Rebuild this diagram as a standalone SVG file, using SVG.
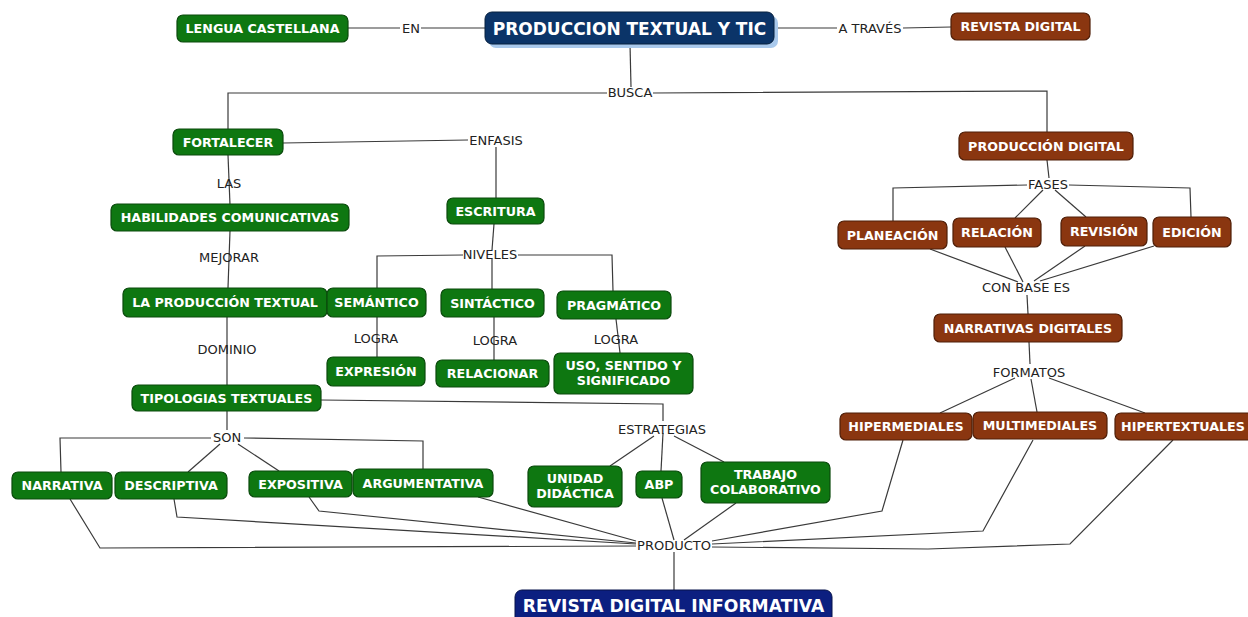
<svg xmlns="http://www.w3.org/2000/svg" width="1248" height="617" viewBox="0 0 1248 617">
<style>
.g rect{fill:#0e7711;stroke:#0a4a0c;stroke-width:1.2}
.b rect{fill:#8a3610;stroke:#4f1e08;stroke-width:1.2}
.n text,.g text,.b text{font-family:"DejaVu Sans",Verdana,sans-serif;font-weight:bold;font-size:12.7px;fill:#ffffff;text-anchor:middle}
.lbl{font-family:"DejaVu Sans",Verdana,sans-serif;font-size:13px;fill:#222;text-anchor:middle}
#conn polyline{fill:none;stroke:#3a3a3a;stroke-width:1.2}
</style>
<rect width="1248" height="617" fill="#ffffff"/>
<g id="conn">
<polyline points="348,28 400,28"/>
<polyline points="421,28 485,28"/>
<polyline points="774,28 837,28"/>
<polyline points="903,28 951,27"/>
<polyline points="630,44 631,87"/>
<polyline points="607,93 228,93 228,129"/>
<polyline points="653,93 1047,91 1047,132"/>
<polyline points="283,143 468,140"/>
<polyline points="496,147 496,198"/>
<polyline points="228,155 230,205"/>
<polyline points="230,231 228,288"/>
<polyline points="227,317 227,385"/>
<polyline points="494,224 492,250"/>
<polyline points="492,259 492,289"/>
<polyline points="463,255 377,256 377,288"/>
<polyline points="518,255 612,255 613,291"/>
<polyline points="377,317 377,357"/>
<polyline points="494,317 494,360"/>
<polyline points="616,319 620,353"/>
<polyline points="321,400 663,404 663,421"/>
<polyline points="663,433 661,471"/>
<polyline points="654,436 610,466"/>
<polyline points="674,436 724,462"/>
<polyline points="227,411 227,430"/>
<polyline points="211,438 60,438 61,472"/>
<polyline points="220,444 188,472"/>
<polyline points="238,444 279,471"/>
<polyline points="244,438 423,441 423,469"/>
<polyline points="70,499 100,548 636,546"/>
<polyline points="174,499 177,517 636,544"/>
<polyline points="309,497 319,511 636,543"/>
<polyline points="478,497 636,541"/>
<polyline points="662,498 674,540"/>
<polyline points="736,503 684,540"/>
<polyline points="903,440 882,511 712,541"/>
<polyline points="1033,440 983,531 712,544"/>
<polyline points="1173,440 1070,544 928,549 712,547"/>
<polyline points="674,552 674,590"/>
<polyline points="1047,160 1049,178"/>
<polyline points="1027,185 893,188 893,221"/>
<polyline points="1069,185 1190,188 1191,217"/>
<polyline points="1043,190 1015,218"/>
<polyline points="1055,190 1086,217"/>
<polyline points="930,249 1018,282"/>
<polyline points="1005,247 1023,282"/>
<polyline points="1085,246 1034,281"/>
<polyline points="1154,246 1040,281"/>
<polyline points="1027,295 1028,314"/>
<polyline points="1029,342 1030,364"/>
<polyline points="1015,378 940,413"/>
<polyline points="1031,379 1037,412"/>
<polyline points="1049,378 1145,413"/>
</g>
<g id="labels">
<text class="lbl" x="411" y="33">EN</text>
<text class="lbl" x="870" y="33">A TRAVÉS</text>
<text class="lbl" x="630" y="97">BUSCA</text>
<text class="lbl" x="496" y="145">ENFASIS</text>
<text class="lbl" x="229" y="188">LAS</text>
<text class="lbl" x="229" y="262">MEJORAR</text>
<text class="lbl" x="227" y="354">DOMINIO</text>
<text class="lbl" x="490" y="259">NIVELES</text>
<text class="lbl" x="376" y="343">LOGRA</text>
<text class="lbl" x="495" y="345">LOGRA</text>
<text class="lbl" x="616" y="344">LOGRA</text>
<text class="lbl" x="662" y="434">ESTRATEGIAS</text>
<text class="lbl" x="227" y="442">SON</text>
<text class="lbl" x="674" y="550">PRODUCTO</text>
<text class="lbl" x="1048" y="189">FASES</text>
<text class="lbl" x="1026" y="292">CON BASE ES</text>
<text class="lbl" x="1029" y="377">FORMATOS</text>
</g>
<g id="n-lengua" class="g"><rect x="177" y="15" width="171" height="27" rx="6"/><text x="262.5" y="33">LENGUA CASTELLANA</text></g>
<g id="n-titulo" class="n"><rect x="489" y="16" width="289" height="32" rx="7" fill="#a9c9ec"/><rect x="485" y="12" width="289" height="32" rx="7" fill="#0b3468" stroke="#06203f" stroke-width="1"/><text x="629.5" y="34.5" style="font-size:17px">PRODUCCION TEXTUAL Y TIC</text></g>
<g id="n-revista" class="b"><rect x="951" y="13" width="139" height="27" rx="6"/><text x="1020.5" y="31">REVISTA DIGITAL</text></g>
<g id="n-fortalecer" class="g"><rect x="173" y="129" width="110" height="26" rx="6"/><text x="228" y="146.5">FORTALECER</text></g>
<g id="n-escritura" class="g"><rect x="447" y="198" width="97" height="26" rx="6"/><text x="495.5" y="215.5">ESCRITURA</text></g>
<g id="n-habilidades" class="g"><rect x="111" y="204" width="238" height="27" rx="6"/><text x="230" y="222">HABILIDADES COMUNICATIVAS</text></g>
<g id="n-laprod" class="g"><rect x="123" y="288" width="204" height="29" rx="6"/><text x="225" y="307">LA PRODUCCIÓN TEXTUAL</text></g>
<g id="n-semantico" class="g"><rect x="327" y="288" width="99" height="29" rx="6"/><text x="376.5" y="307">SEMÁNTICO</text></g>
<g id="n-sintactico" class="g"><rect x="441" y="289" width="103" height="28" rx="6"/><text x="492.5" y="307.5">SINTÁCTICO</text></g>
<g id="n-pragmatico" class="g"><rect x="557" y="291" width="114" height="28" rx="6"/><text x="614" y="309.5">PRAGMÁTICO</text></g>
<g id="n-expresion" class="g"><rect x="327" y="357" width="98" height="29" rx="6"/><text x="376" y="376">EXPRESIÓN</text></g>
<g id="n-relacionar" class="g"><rect x="436" y="360" width="113" height="27" rx="6"/><text x="492.5" y="378">RELACIONAR</text></g>
<g id="n-uso" class="g"><rect x="554" y="353" width="139" height="41" rx="6"/><text x="623.5" y="370">USO, SENTIDO Y</text><text x="623.5" y="385">SIGNIFICADO</text></g>
<g id="n-tipologias" class="g"><rect x="132" y="385" width="189" height="26" rx="6"/><text x="226.5" y="402.5">TIPOLOGIAS TEXTUALES</text></g>
<g id="n-narrativa" class="g"><rect x="12" y="472" width="100" height="27" rx="6"/><text x="62" y="490">NARRATIVA</text></g>
<g id="n-descriptiva" class="g"><rect x="115" y="472" width="112" height="27" rx="6"/><text x="171" y="490">DESCRIPTIVA</text></g>
<g id="n-expositiva" class="g"><rect x="249" y="471" width="103" height="26" rx="6"/><text x="300.5" y="488.5">EXPOSITIVA</text></g>
<g id="n-argumentativa" class="g"><rect x="353" y="469" width="140" height="28" rx="6"/><text x="423" y="487.5">ARGUMENTATIVA</text></g>
<g id="n-unidad" class="g"><rect x="528" y="466" width="94" height="41" rx="6"/><text x="575" y="483">UNIDAD</text><text x="575" y="498">DIDÁCTICA</text></g>
<g id="n-abp" class="g"><rect x="636" y="471" width="46" height="27" rx="6"/><text x="659" y="489">ABP</text></g>
<g id="n-trabajo" class="g"><rect x="701" y="462" width="129" height="41" rx="6"/><text x="765.5" y="479">TRABAJO</text><text x="765.5" y="494">COLABORATIVO</text></g>
<g id="n-revinfo" class="n"><rect x="515" y="590" width="317" height="34" rx="7" fill="#0c1f80" stroke="#06124a" stroke-width="1"/><text x="673.5" y="612" style="font-size:17.2px">REVISTA DIGITAL INFORMATIVA</text></g>
<g id="n-proddigital" class="b"><rect x="959" y="132" width="174" height="28" rx="6"/><text x="1046" y="150.5">PRODUCCIÓN DIGITAL</text></g>
<g id="n-planeacion" class="b"><rect x="838" y="221" width="109" height="28" rx="6"/><text x="892.5" y="239.5">PLANEACIÓN</text></g>
<g id="n-relacion" class="b"><rect x="953" y="218" width="88" height="29" rx="6"/><text x="997" y="237">RELACIÓN</text></g>
<g id="n-revision" class="b"><rect x="1061" y="217" width="86" height="29" rx="6"/><text x="1104" y="236">REVISIÓN</text></g>
<g id="n-edicion" class="b"><rect x="1153" y="217" width="78" height="30" rx="6"/><text x="1192" y="236.5">EDICIÓN</text></g>
<g id="n-narrativas" class="b"><rect x="934" y="314" width="188" height="28" rx="6"/><text x="1028" y="332.5">NARRATIVAS DIGITALES</text></g>
<g id="n-hipermediales" class="b"><rect x="840" y="413" width="132" height="27" rx="6"/><text x="906" y="431">HIPERMEDIALES</text></g>
<g id="n-multimediales" class="b"><rect x="973" y="412" width="134" height="27" rx="6"/><text x="1040" y="430">MULTIMEDIALES</text></g>
<g id="n-hipertextuales" class="b"><rect x="1115" y="413" width="140" height="27" rx="6"/><text x="1183" y="431">HIPERTEXTUALES</text></g>
</svg>
